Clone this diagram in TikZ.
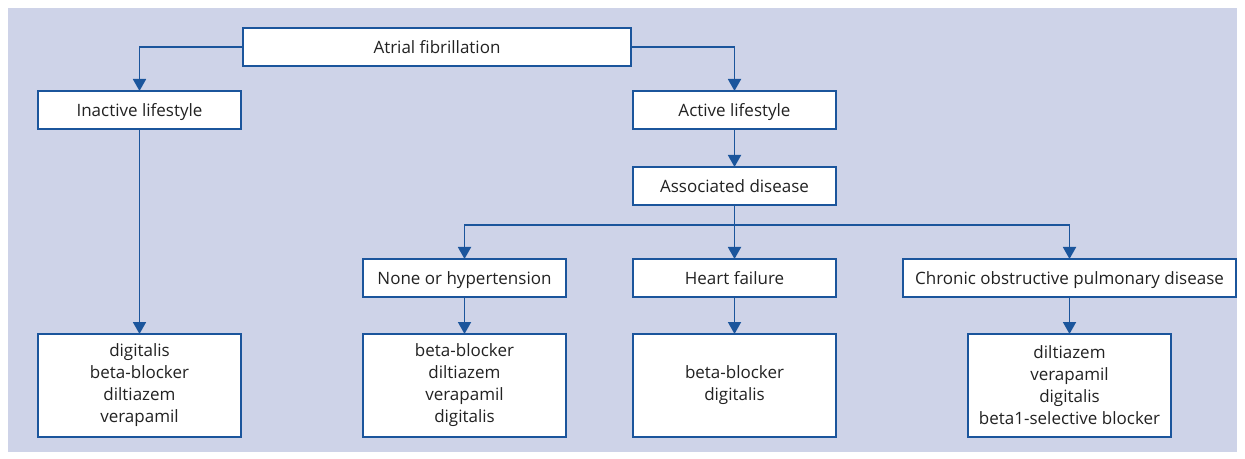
\documentclass[tikz,border=0pt]{standalone}
\usepackage{fontspec}
\setmainfont{Open Sans}
\usetikzlibrary{arrows.meta,positioning}
\definecolor{bgviolet}{HTML}{CED3E8}
\definecolor{lineblue}{HTML}{1B559C}
\definecolor{textgray}{HTML}{222222}

\begin{document}
\begin{tikzpicture}[x=0.5pt,y=-0.5pt,font=\fontsize{8.5}{11}\selectfont,text=textgray]
\tikzstyle{frame} = [draw=lineblue, fill=white, line width=0.9pt, minimum width=101.5pt, inner sep=0pt, outer sep=0pt, align=center]
\tikzstyle{box} = [frame, minimum height=19pt, text height=6.6pt, text depth=0pt]
\tikzstyle{drugs} = [frame, minimum height=51.5pt]
\tikzstyle{arrow} = [-{Triangle[width=6.5pt,length=6pt]}, lineblue, line width=0.9pt]
\useasboundingbox (0,0) rectangle (1245,459);
\fill[bgviolet] (8,8) rectangle (1237,452);
% top of the tree
\node [box,minimum width=194pt] (fib) at (437,47) {Atrial fibrillation};
\node [box] (inactive) at (139.5,110) {Inactive lifestyle};
\node [box] (active) at (734.5,110) {Active lifestyle};
\node [box,below=19pt of active] (assoc) {Associated disease};
% diseases
\node [box,below=27pt of assoc] (heart) {Heart failure};
\node [box] (hyper) at (464.5,278) {None or hypertension};
\node [box,minimum width=166.5pt] (copd) at (1069.5,278) {Chronic obstructive pulmonary disease};
% drugs
\node [drugs,below=102.5pt of inactive] (drugs0) {digitalis\\beta-blocker\\diltiazem\\verapamil};
\node [drugs,below=18.5pt of hyper] (drugs1) {beta-blocker\\diltiazem\\verapamil\\digitalis};
\node [drugs,below=18.5pt of heart] (drugs2) {beta-blocker\\digitalis};
\node [drugs,below=18.5pt of copd] (drugs3) {diltiazem\\verapamil\\digitalis\\beta1-selective blocker};
\coordinate (split) at (734.5,225);
\draw [arrow] (fib.west) -| (inactive.north);
\draw [arrow] (fib.east) -| (active.north);
\draw [arrow] (active) -- (assoc);
\draw [arrow] (assoc) -- (heart);
\draw [arrow] (split) -| (hyper.north);
\draw [arrow] (split) -| (copd.north);
\draw [arrow] (inactive) -- (drugs0);
\draw [arrow] (hyper) -- (drugs1);
\draw [arrow] (heart) -- (drugs2);
\draw [arrow] (copd) -- (drugs3);
\end{tikzpicture}
\end{document}
